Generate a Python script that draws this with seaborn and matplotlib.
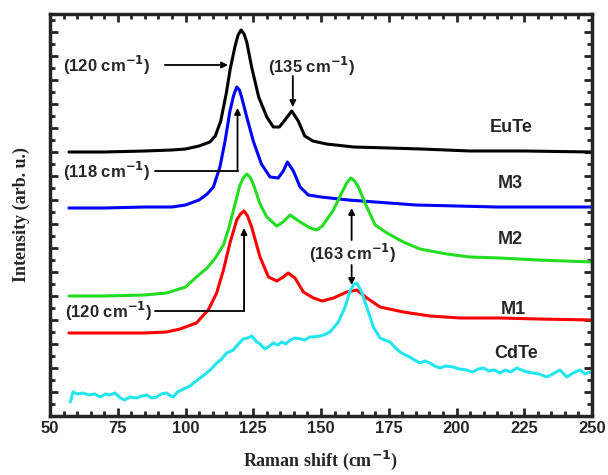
import numpy as np
import pandas as pd
import matplotlib
matplotlib.use("Agg")
import matplotlib.pyplot as plt
import seaborn as sns

# ── Raman spectra (intensity in arb. units) ───────────────────────────
eute_x = [57, 70, 85, 95, 100, 105, 109, 111, 113, 115, 116.5, 118.3, 119.4, 120.5, 121.6, 122.6,
          124.4, 127, 130, 132.4, 134.6, 136.7, 139.2, 141.6, 144, 147, 152, 162, 175, 187, 205,
          225, 250]
eute_y = [264, 264, 265, 266, 267, 270, 274, 280, 295, 322, 347, 370, 381, 386, 382, 374,
          349, 319, 299, 289, 289, 296, 305, 295, 280, 275, 272, 269, 268, 267, 265,
          265, 264]

m3_x = [57, 70, 85, 95, 100, 105, 108, 110.3, 112.7, 114.6, 116.4, 117.8, 118.9, 119.9, 120.7,
        122.6, 125, 128, 131.2, 134.2, 136.1, 137.6, 139.8, 142.3, 145.3, 150, 160, 170, 185,
        200, 215, 230, 250]
m3_y = [208, 208, 209, 209, 211, 216, 222, 229, 249, 275, 305, 321, 329, 326, 319,
        299, 275, 252, 239, 238, 245, 254, 245, 229, 221, 219, 216, 214, 211,
        210, 209, 209, 209]

m2_x = [57, 70, 85, 93, 100, 104, 108, 111, 114, 116, 118, 120, 121.3, 122.6, 123.8, 125, 127.5,
        130, 133.7, 136, 138.6, 142.3, 146, 148.4, 150.5, 154.6, 157.6, 159.5, 161, 162.4,
        163.8, 166.9, 170, 174.3, 180.4, 186.5, 196.4, 205, 216, 230, 250]
m2_y = [120, 120, 121, 123, 129, 139, 148, 158, 171, 188, 209, 230, 238, 242, 239, 232, 212,
        199, 190, 194, 201, 194, 188, 186, 190, 206, 223, 233, 238, 235,
        229, 209, 191, 183, 174, 167, 162, 159, 158, 156, 154]

m1_x = [57, 70, 85, 93, 98, 104, 108.4, 111.5, 114, 116.4, 118.9, 120.3, 121.6, 122.9, 124.4,
        127.5, 130.6, 133.7, 136.1, 137.9, 140.4, 143.5, 147.2, 150.5, 154.6, 159.5, 163.2,
        166.9, 171.8, 180.4, 190.2, 201.3, 216, 230, 250]
m1_y = [83, 83, 83, 84, 87, 93, 106, 123, 146, 173, 196, 202, 205, 200, 189,
        159, 139, 135, 139, 143, 138, 124, 118, 115, 118, 124, 126,
        118, 109, 104, 100, 98, 98, 97, 96]

cdte_x = [57.5, 58.5, 60, 62, 64.5, 66.5, 68.5, 70.5, 72, 74, 76, 77.5, 79.5, 82, 84, 85.7, 87.5,
          89.4, 91, 93, 94.5, 95.5, 97, 98.6, 100, 101.7, 103, 105.4, 107.8, 109.5, 111.5, 113,
          115.2, 117.6, 119.5, 121.3, 123, 124.5, 126.3, 127.5, 129.3, 131, 132.4, 134, 135.5,
          137, 138.6, 140.5, 142.5, 144.1, 145.8, 147.2, 149.6, 151, 153.3, 156.4, 158.9, 160.7,
          162, 163.2, 165, 167.5, 169.3, 171.8, 173.5, 175.5, 177.5, 179.2, 181, 182.8, 184.5,
          186.5, 188.5, 190.2, 192, 193.9, 196, 198.8, 201, 203.7, 206, 208, 209.9, 212, 214,
          216, 218, 220, 222.2, 224, 226, 228.3, 230.5, 233.3, 235.5, 238.2, 240.7, 243, 245.6,
          247.5, 249.3]
cdte_y = [14, 24, 22, 23, 21, 22, 19, 22, 21, 23, 18, 16, 19, 18, 20, 21, 18,
          19, 22, 23, 20, 19, 24, 26, 28, 30, 33, 38, 43, 47, 53, 56,
          63, 66, 72, 77, 78, 80, 74, 72, 67, 70, 73, 71, 74,
          72, 76, 78, 77, 76, 79, 79, 80, 81, 84, 94, 109, 125,
          131, 133, 124, 104, 89, 78, 76, 74, 68, 64, 61, 59, 56,
          53, 55, 53, 50, 48, 50, 49, 47, 46, 44, 47, 48, 45, 46,
          43, 46, 44, 48, 46, 44, 43, 42, 39, 42, 46, 39, 43, 46,
          42, 44]

samples = ["EuTe", "M3", "M2", "M1", "CdTe"]
colors = ["#000000", "#0000FF", "#22DD22", "#FF0000", "#22E5EE"]
label_pos = [(220, 289), (220, 233), (220, 176), (221, 106), (222, 63)]
xtick_vals = [50, 75, 100, 125, 150, 175, 200, 225, 250]

frames = []
for name, xs, ys in zip(samples, [eute_x, m3_x, m2_x, m1_x, cdte_x],
                        [eute_y, m3_y, m2_y, m1_y, cdte_y]):
    frames.append(pd.DataFrame({"shift": xs, "intensity": ys, "sample": name}))
df = pd.concat(frames, ignore_index=True)

sns.set_style("ticks")
plt.rcParams["font.family"] = ["Liberation Sans", "DejaVu Sans"]
plt.rcParams["mathtext.default"] = "bf"

fig = plt.figure(figsize=(6.08, 4.75), dpi=100)
ax = fig.add_axes([50 / 608, 59 / 475, 542 / 608, 402 / 475])

sns.lineplot(data=df, x="shift", y="intensity", hue="sample", hue_order=samples,
             palette=colors, sort=False, estimator=None, legend=False, lw=2.2, ax=ax)

# sample labels
for name, (lx, ly) in zip(samples, label_pos):
    ax.text(lx, ly, name, ha="center", va="center", fontsize=13, fontweight="bold")

# ── peak annotations ──────────────────────────────────────────
arrow = dict(arrowstyle="-|>", color="k", lw=1.3, mutation_scale=9, shrinkA=0, shrinkB=0)
tfont = dict(fontsize=12, fontweight="bold", va="center")

ax.text(54.8, 351, r"(120 cm$^{-1}$)", ha="left", **tfont)
ax.annotate("", xy=(115.7, 351), xytext=(92.4, 351), arrowprops=arrow)

ax.text(146.5, 350, r"(135 cm$^{-1}$)", ha="center", **tfont)
ax.annotate("", xy=(139.6, 309), xytext=(139.6, 340), arrowprops=arrow)

ax.text(54.8, 245, r"(118 cm$^{-1}$)", ha="left", **tfont)
ax.plot([88.7, 119.2], [245, 245], color="k", lw=1.3)
ax.annotate("", xy=(119.2, 308), xytext=(119.2, 245), arrowprops=arrow)

ax.text(161.5, 163, r"(163 cm$^{-1}$)", ha="center", **tfont)
ax.annotate("", xy=(161.3, 208), xytext=(161.3, 176), arrowprops=arrow)
ax.annotate("", xy=(161.3, 131), xytext=(161.3, 151), arrowprops=arrow)

ax.text(55.5, 105, r"(120 cm$^{-1}$)", ha="left", **tfont)
ax.plot([88.7, 121.6], [105, 105], color="k", lw=1.3)
ax.annotate("", xy=(121.6, 188), xytext=(121.6, 105), arrowprops=arrow)

# ── axes styling ─────────────────────────────────────────────
ax.set_xlim(50, 250)
ax.set_ylim(0, 402)
ax.set_xticks(xtick_vals)
ax.set_xticklabels([str(v) for v in xtick_vals])
ax.set_xticks(np.arange(50, 251, 5), minor=True)
ax.set_yticks(np.arange(24, 402, 24))
ax.set_yticks(np.arange(12, 402, 12), minor=True)
ax.set_yticklabels([])
ax.tick_params(which="both", direction="in", top=True, right=True, width=2, labelsize=12)
ax.tick_params(which="major", length=6)
ax.tick_params(which="minor", length=3.5)
plt.setp(ax.get_xticklabels(), fontweight="bold")
for sp in ax.spines.values():
    sp.set_linewidth(2.5)

ax.set_xlabel(r"Raman shift (cm$^{-1}$)", fontsize=13, fontweight="bold",
              family="Liberation Serif", labelpad=9)
ax.set_ylabel("Intensity (arb. u.)", fontsize=13, fontweight="bold",
              family="Liberation Serif", labelpad=11)

plt.savefig("out.png", dpi=100)
plt.close()
